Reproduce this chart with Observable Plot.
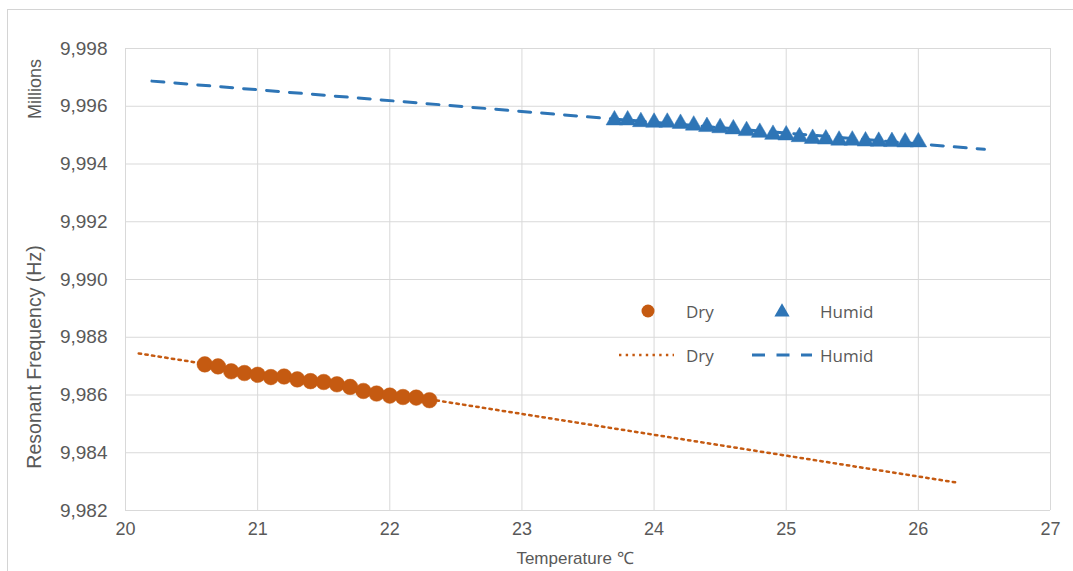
<!DOCTYPE html>
<html><head><meta charset="utf-8">
<script src="https://cdn.jsdelivr.net/npm/d3@7"></script>
<script src="https://cdn.jsdelivr.net/npm/@observablehq/plot@0.6"></script>
<style>
body{margin:0;background:#fff;}
#wrap{position:relative;width:1073px;height:571px;overflow:hidden;background:#fff;}
#frame{position:absolute;left:7px;top:9px;width:1100px;height:600px;border:1px solid #D4D4D4;}
#chart{position:absolute;left:0;top:0;}
#over{position:absolute;left:0;top:0;pointer-events:none;}
</style>
</head><body>
<div id="wrap"><div id="frame"></div><div id="chart"></div></div>
<script>
// ---- data ----
const xTicks = [20, 21, 22, 23, 24, 25, 26, 27];
const xTickLabels = ["20", "21", "22", "23", "24", "25", "26", "27"];
const yTicks = [9.982, 9.984, 9.986, 9.988, 9.990, 9.992, 9.994, 9.996, 9.998];
const yTickLabels = ["9,982", "9,984", "9,986", "9,988", "9,990", "9,992", "9,994", "9,996", "9,998"];

const dryTemp = [20.6, 20.7, 20.8, 20.9, 21.0, 21.1, 21.2, 21.3, 21.4, 21.5, 21.6, 21.7, 21.8, 21.9, 22.0, 22.1, 22.2, 22.3];
const dryFreq = [9.98706, 9.98699, 9.98682, 9.98676, 9.98670, 9.98662, 9.98664, 9.98654, 9.98648, 9.98645, 9.98637, 9.98628, 9.98614, 9.98605, 9.98598, 9.98593, 9.98591, 9.98582];

const humidTemp = [23.7, 23.8, 23.9, 24.0, 24.1, 24.2, 24.3, 24.4, 24.5, 24.6, 24.7, 24.8, 24.9, 25.0, 25.1, 25.2, 25.3, 25.4, 25.5, 25.6, 25.7, 25.8, 25.9, 26.0];
const humidFreq = [9.99552, 9.99552, 9.99546, 9.99544, 9.99544, 9.99540, 9.99534, 9.99529, 9.99525, 9.99521, 9.99515, 9.99509, 9.99502, 9.99500, 9.99494, 9.99488, 9.99486, 9.99482, 9.99482, 9.99479, 9.99478, 9.99477, 9.99476, 9.99476];

const dryTrendTemp = [20.1, 26.3];
const dryTrendFreq = [9.98744, 9.98296];
const humidTrendTemp = [20.2, 26.5];
const humidTrendFreq = [9.99687, 9.99451];

const seriesNames = ["Dry", "Humid"];
const xTitle = "Temperature \u2103";
const yTitle = "Resonant Frequency (Hz)";
const yUnit = "Millions";

// ---- build tables ----
const dry = dryTemp.map((t, i) => ({t, f: dryFreq[i]}));
const humid = humidTemp.map((t, i) => ({t, f: humidFreq[i]}));
const dryTrend = dryTrendTemp.map((t, i) => ({t, f: dryTrendFreq[i]}));
const humidTrend = humidTrendTemp.map((t, i) => ({t, f: humidTrendFreq[i]}));

const ORANGE = "#C55A11";
const BLUE = "#2E75B6";
const GRID = "#D9D9D9";
const TXT = "#595959";

const fmtX = d => xTickLabels[xTicks.findIndex(v => Math.abs(v - d) < 1e-9)];
const fmtY = d => yTickLabels[yTicks.findIndex(v => Math.abs(v - d) < 1e-9)];

const W = 1073, H = 571;
const plot = Plot.plot({
  width: W, height: H,
  marginLeft: 125, marginRight: 23, marginTop: 48, marginBottom: 61,
  style: {fontFamily: "'Liberation Sans', Arial, sans-serif", fontSize: "18px", color: TXT, background: "transparent"},
  x: {domain: [20, 27], label: null},
  y: {domain: [9.982, 9.998], label: null},
  marks: [
    Plot.gridX(xTicks, {stroke: GRID, strokeOpacity: 1, strokeWidth: 1}),
    Plot.gridY(yTicks, {stroke: GRID, strokeOpacity: 1, strokeWidth: 1}),
    Plot.line(dryTrend, {x: "t", y: "f", stroke: ORANGE, strokeWidth: 2.5, strokeDasharray: "2.4 4.3"}),
    Plot.line(humidTrend, {x: "t", y: "f", stroke: BLUE, strokeWidth: 3, strokeDasharray: "12 11"}),
    Plot.dot(dry, {x: "t", y: "f", r: 7.8, fill: ORANGE, stroke: ORANGE, strokeWidth: 0.5, symbol: "circle"}),
    Plot.dot(humid, {x: "t", y: "f", r: 6.2, fill: BLUE, stroke: BLUE, strokeWidth: 0.5, symbol: "triangle"}),
    Plot.axisX(xTicks, {tickSize: 0, tickPadding: 12, fill: TXT, fontSize: 18, tickFormat: fmtX, label: null}),
    Plot.axisY(yTicks, {tickSize: 0, tickPadding: 18, fill: TXT, fontSize: 19, tickFormat: fmtY, label: null})
  ]
});
document.getElementById("chart").appendChild(plot);

// ---- titles and legend overlay ----
const over = d3.select("#wrap").append("svg").attr("id", "over")
  .attr("width", W).attr("height", H);

const tFont = "'Liberation Sans', Arial, sans-serif";
over.append("text").attr("transform", "translate(41,89) rotate(-90)")
  .attr("text-anchor", "middle").attr("font-family", tFont).attr("font-size", 18)
  .attr("fill", TXT).text(yUnit);
over.append("text").attr("transform", "translate(41,357) rotate(-90)")
  .attr("text-anchor", "middle").attr("font-family", tFont).attr("font-size", 19.5)
  .attr("fill", TXT).text(yTitle);
over.append("text").attr("x", 575).attr("y", 564)
  .attr("text-anchor", "middle").attr("font-family", tFont).attr("font-size", 17)
  .attr("fill", TXT).text(xTitle);

// legend
const lFont = "'Open Sans', 'Noto Sans', sans-serif";
const lg = over.append("g");
lg.append("circle").attr("cx", 648).attr("cy", 311).attr("r", 6.5).attr("fill", ORANGE);
lg.append("path").attr("d", d3.symbol(d3.symbolTriangle, 100)()).attr("transform", "translate(782,312)").attr("fill", BLUE);
lg.append("line").attr("x1", 619).attr("x2", 674).attr("y1", 355).attr("y2", 355)
  .attr("stroke", ORANGE).attr("stroke-width", 2.5).attr("stroke-dasharray", "2.4 4.3");
lg.append("line").attr("x1", 752).attr("x2", 812).attr("y1", 355).attr("y2", 355)
  .attr("stroke", BLUE).attr("stroke-width", 3).attr("stroke-dasharray", "13 11.5");
[[686, 318, seriesNames[0]], [820, 318, seriesNames[1]], [686, 362, seriesNames[0]], [820, 362, seriesNames[1]]]
  .forEach(([x, y, s]) => lg.append("text").attr("x", x).attr("y", y).attr("font-family", lFont)
    .attr("font-size", 17).attr("fill", TXT).text(s));
</script>
</body></html>
